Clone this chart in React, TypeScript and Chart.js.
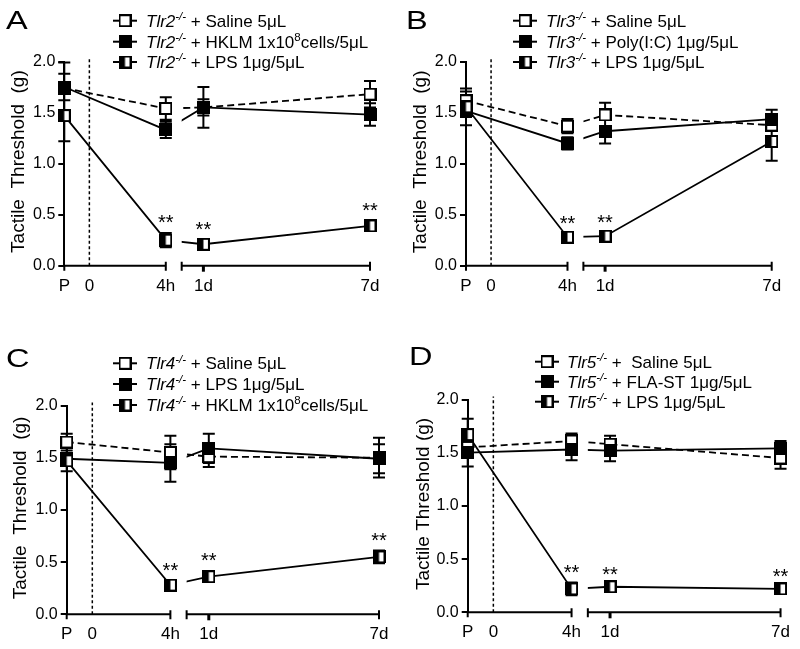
import React, { useEffect, useRef } from 'react';
import { Chart, registerables } from 'chart.js';

Chart.register(...registerables);

const FONT = '"Liberation Sans", Arial, Helvetica, sans-serif';
const INK = '#000000';

// ---------- shared axis data ----------
const timeLabels = ['P', '0', '4h', '1d', '7d'];
const timeAxisValues = [0, 0.82, 3.32, 4.55, 10];
const axisBreakValue = 3.84; // start of second x-axis segment
const injectionValue = 0.82; // time "0" (dotted line)
const measuredTimes = ['P', '4h', '1d', '7d'];
const yTickValues = [0, 0.5, 1.0, 1.5, 2.0];

// ---------- Panel A : Tlr2-/- ----------
const aLabels = ['*Tlr2^{-/-}* + Saline 5μL', '*Tlr2^{-/-}* + HKLM 1x10^{8}cells/5μL', '*Tlr2^{-/-}* + LPS 1μg/5μL'];
const aSaline = [1.74, 1.54, 1.55, 1.68];
const aSalineErr = [0.25, 0.11, 0.08, 0.13];
const aHklm = [1.75, 1.33, 1.55, 1.48];
const aHklmErr = [0.13, 0.08, 0.2, 0.11];
const aLps = [1.47, 0.25, 0.21, 0.39];
const aLpsErr = [0.25, 0.07, 0.04, 0.05];
const aSig = [false, true, true, true];

// ---------- Panel B : Tlr3-/- ----------
const bLabels = ['*Tlr3^{-/-}* + Saline 5μL', '*Tlr3^{-/-}* + Poly(I:C) 1μg/5μL', '*Tlr3^{-/-}* + LPS 1μg/5μL'];
const bSaline = [1.62, 1.37, 1.48, 1.38];
const bSalineErr = [0.09, 0.07, 0.12, 0.05];
const bPoly = [1.52, 1.2, 1.32, 1.44];
const bPolyErr = [0.06, 0.06, 0.12, 0.09];
const bLps = [1.56, 0.28, 0.29, 1.22];
const bLpsErr = [0.18, 0.03, 0.03, 0.19];
const bSig = [false, true, true, false];

// ---------- Panel C : Tlr4-/- ----------
const cLabels = ['*Tlr4^{-/-}* + Saline 5μL', '*Tlr4^{-/-}* + LPS 1μg/5μL', '*Tlr4^{-/-}* + HKLM 1x10^{8}cells/5μL'];
const cSaline = [1.65, 1.55, 1.51, 1.5];
const cSalineErr = [0.08, 0.16, 0.1, 0.19];
const cLps = [1.49, 1.45, 1.59, 1.49];
const cLpsErr = [0.12, 0.18, 0.14, 0.14];
const cHklm = [1.47, 0.28, 0.36, 0.55];
const cHklmErr = [0.1, 0.04, 0.05, 0.06];
const cSig = [false, true, true, true];

// ---------- Panel D : Tlr5-/- ----------
const dLabels = ['*Tlr5^{-/-}* +  Saline 5μL', '*Tlr5^{-/-}* + FLA-ST 1μg/5μL', '*Tlr5^{-/-}* + LPS 1μg/5μL'];
const dSaline = [1.55, 1.61, 1.58, 1.45];
const dSalineErr = [0.08, 0.07, 0.08, 0.1];
const dFla = [1.5, 1.53, 1.52, 1.54];
const dFlaErr = [0.13, 0.1, 0.1, 0.07];
const dLps = [1.67, 0.22, 0.24, 0.22];
const dLpsErr = [0.15, 0.06, 0.02, 0.02];
const dSig = [false, true, true, true];

type MarkerKind = 'open' | 'filled' | 'half';
type Series = { label: string; mean: number[]; err: number[]; marker: MarkerKind; dashed: boolean };
type PanelCfg = {
  letter: string;
  left: number; top: number; width: number; height: number;
  area: { left: number; right: number; top: number; bottom: number };
  letterPos: { x: number; y: number };
  legend: { x: number; textX: number; rows: number[] };
  titleX: number;
  title: string;
  series: Series[];
  sig: boolean[];
};

const mk = (labels: string[], means: number[][], errs: number[][]): Series[] => {
  const kinds: MarkerKind[] = ['open', 'filled', 'half'];
  return labels.map((l, i) => ({ label: l, mean: means[i], err: errs[i], marker: kinds[i], dashed: i === 0 }));
};

const panels: PanelCfg[] = [
  {
    letter: 'A', left: 0, top: 0, width: 400, height: 324,
    area: { left: 64.3, right: 370, top: 61.5, bottom: 265.7 },
    letterPos: { x: 6, y: 28.5 },
    legend: { x: 125, textX: 146, rows: [20.7, 41.7, 62] },
    titleX: 19, title: 'Tactile  Threshold  (g)',
    series: mk(aLabels, [aSaline, aHklm, aLps], [aSalineErr, aHklmErr, aLpsErr]),
    sig: aSig,
  },
  {
    letter: 'B', left: 400, top: 0, width: 400, height: 324,
    area: { left: 466, right: 771.7, top: 62, bottom: 265.7 },
    letterPos: { x: 406, y: 28.5 },
    legend: { x: 525, textX: 546, rows: [20.7, 41.7, 62] },
    titleX: 420.6, title: 'Tactile  Threshold  (g)',
    series: mk(bLabels, [bSaline, bPoly, bLps], [bSalineErr, bPolyErr, bLpsErr]),
    sig: bSig,
  },
  {
    letter: 'C', left: 0, top: 324, width: 400, height: 325,
    area: { left: 66.7, right: 379, top: 405.5, bottom: 614.3 },
    letterPos: { x: 6, y: 367 },
    legend: { x: 125, textX: 146, rows: [363.3, 384, 405] },
    titleX: 20.6, title: 'Tactile  Threshold  (g)',
    series: mk(cLabels, [cSaline, cLps, cHklm], [cSalineErr, cLpsErr, cHklmErr]),
    sig: cSig,
  },
  {
    letter: 'D', left: 400, top: 324, width: 400, height: 325,
    area: { left: 467.7, right: 783.3, top: 399.5, bottom: 612.3 },
    letterPos: { x: 409, y: 365 },
    legend: { x: 547, textX: 567, rows: [361.7, 381.7, 401.7] },
    titleX: 423.3, title: 'Tactile Threshold (g)',
    series: mk(dLabels, [dSaline, dFla, dLps], [dSalineErr, dFlaErr, dLpsErr]),
    sig: dSig,
  },
];

const X_AXIS_H = 30;

function makeMarker(kind: MarkerKind): HTMLCanvasElement {
  const c = document.createElement('canvas');
  c.width = 13;
  c.height = 13;
  const g = c.getContext('2d')!;
  g.fillStyle = '#ffffff';
  g.fillRect(1, 1, 11, 11);
  g.fillStyle = '#000000';
  if (kind === 'filled') g.fillRect(1, 1, 11, 11);
  if (kind === 'half') g.fillRect(1, 1, 5.5, 11);
  g.strokeStyle = '#000000';
  g.lineWidth = 2;
  g.strokeRect(1, 1, 11, 11);
  return c;
}

type Seg = { text: string; italic: boolean; sup: boolean };
function parseRich(s: string): Seg[] {
  const segs: Seg[] = [];
  let italic = false;
  let buf = '';
  let i = 0;
  const flush = () => {
    if (buf) segs.push({ text: buf, italic, sup: false });
    buf = '';
  };
  while (i < s.length) {
    const ch = s[i];
    if (ch === '*') {
      flush();
      italic = !italic;
      i++;
      continue;
    }
    if (ch === '^' && s[i + 1] === '{') {
      flush();
      const end = s.indexOf('}', i);
      segs.push({ text: s.slice(i + 2, end), italic, sup: true });
      i = end + 1;
      continue;
    }
    buf += ch;
    i++;
  }
  flush();
  return segs;
}

function buildConfig(cfg: PanelCfg): any {
  const markers: Record<MarkerKind, HTMLCanvasElement> = {
    open: makeMarker('open'),
    filled: makeMarker('filled'),
    half: makeMarker('half'),
  };
  const xs = measuredTimes.map((t) => timeAxisValues[timeLabels.indexOf(t)]);
  const x4h = timeAxisValues[timeLabels.indexOf('4h')];
  const toData = (arr: number[]) => arr.map((v, i) => ({ x: xs[i], y: v }));

  const pointSets = cfg.series
    .map((s) => ({
      data: toData(s.mean),
      showLine: false,
      pointStyle: markers[s.marker],
      pointRadius: 7,
      pointHoverRadius: 7,
      clip: false,
    }))
    .reverse();
  const lineSets = cfg.series.map((s) => ({
    data: toData(s.mean),
    showLine: true,
    pointRadius: 0,
    pointHoverRadius: 0,
    borderColor: '#000',
    borderWidth: 1.8,
    borderDash: s.dashed ? [7, 4] : [],
    tension: 0,
    fill: false,
    clip: false,
  }));
  const nPts = pointSets.length;

  const ox = cfg.left;
  const oy = cfg.top;

  const decor = {
    id: 'decor' + cfg.letter,
    beforeDatasetsDraw(chart: any) {
      const ctx: CanvasRenderingContext2D = chart.ctx;
      const xS = chart.scales.x;
      const yS = chart.scales.y;
      const y0 = yS.getPixelForValue(0);
      ctx.save();
      ctx.strokeStyle = '#000';
      ctx.lineCap = 'butt';
      // broken x axis
      ctx.lineWidth = 2;
      const segs = [
        [0, x4h],
        [axisBreakValue, timeAxisValues[timeAxisValues.length - 1]],
      ];
      ctx.beginPath();
      for (const [a, b] of segs) {
        ctx.moveTo(xS.getPixelForValue(a) - 1, y0);
        ctx.lineTo(xS.getPixelForValue(b) + 1, y0);
      }
      // end caps
      for (const v of [x4h, axisBreakValue, timeAxisValues[4]]) {
        const px = xS.getPixelForValue(v);
        ctx.moveTo(px, y0 - 4);
        ctx.lineTo(px, y0 + 5);
      }
      // ticks below
      const pP = xS.getPixelForValue(timeAxisValues[0]);
      ctx.moveTo(pP, y0);
      ctx.lineTo(pP, y0 + 5);
      ctx.stroke();
      ctx.lineWidth = 3;
      ctx.beginPath();
      const p1d = xS.getPixelForValue(timeAxisValues[3]);
      ctx.moveTo(p1d, y0);
      ctx.lineTo(p1d, y0 + 6);
      ctx.stroke();

      // dotted injection line
      ctx.lineWidth = 1.5;
      ctx.setLineDash([3, 2.5]);
      const pz = xS.getPixelForValue(injectionValue);
      ctx.beginPath();
      ctx.moveTo(pz, y0);
      ctx.lineTo(pz, chart.chartArea.top - 3);
      ctx.stroke();
      ctx.setLineDash([]);

      // error bars
      ctx.lineWidth = 2;
      ctx.beginPath();
      cfg.series.forEach((s) => {
        s.mean.forEach((m, i) => {
          const px = xS.getPixelForValue(xs[i]);
          const yt = yS.getPixelForValue(m + s.err[i]);
          const yb = yS.getPixelForValue(m - s.err[i]);
          ctx.moveTo(px, yt);
          ctx.lineTo(px, yb);
          ctx.moveTo(px - 6, yt);
          ctx.lineTo(px + 6, yt);
          ctx.moveTo(px - 6, yb);
          ctx.lineTo(px + 6, yb);
        });
      });
      ctx.stroke();
      ctx.restore();
    },
    beforeDatasetDraw(chart: any, args: any) {
      if (args.index < nPts) return;
      const ctx: CanvasRenderingContext2D = chart.ctx;
      const xS = chart.scales.x;
      const a = xS.getPixelForValue(x4h);
      const b = xS.getPixelForValue(axisBreakValue);
      ctx.save();
      ctx.beginPath();
      ctx.rect(0, 0, a, chart.height);
      ctx.rect(b, 0, chart.width - b, chart.height);
      ctx.clip();
    },
    afterDatasetDraw(chart: any, args: any) {
      if (args.index < nPts) return;
      chart.ctx.restore();
    },
    afterDatasetsDraw(chart: any) {
      const ctx: CanvasRenderingContext2D = chart.ctx;
      const xS = chart.scales.x;
      const yS = chart.scales.y;
      const s = cfg.series[2];
      ctx.save();
      ctx.fillStyle = INK;
      ctx.font = `20px ${FONT}`;
      ctx.textAlign = 'center';
      ctx.textBaseline = 'alphabetic';
      cfg.sig.forEach((flag, i) => {
        if (!flag) return;
        const px = xS.getPixelForValue(xs[i]);
        const yt = yS.getPixelForValue(s.mean[i] + s.err[i]);
        ctx.fillText('**', px, yt - 4);
      });
      ctx.restore();
    },
    afterDraw(chart: any) {
      const ctx: CanvasRenderingContext2D = chart.ctx;
      const ca = chart.chartArea;
      ctx.save();
      ctx.fillStyle = INK;
      // panel letter
      ctx.save();
      ctx.translate(cfg.letterPos.x - ox, cfg.letterPos.y - oy);
      ctx.scale(1.3, 1);
      ctx.font = `25px ${FONT}`;
      ctx.textAlign = 'left';
      ctx.textBaseline = 'alphabetic';
      ctx.fillText(cfg.letter, 0, 0);
      ctx.restore();

      // y title
      ctx.save();
      ctx.translate(cfg.titleX - ox, (ca.top + ca.bottom) / 2 - 2);
      ctx.rotate(-Math.PI / 2);
      ctx.font = `19px ${FONT}`;
      ctx.textAlign = 'center';
      ctx.textBaseline = 'middle';
      ctx.fillText(cfg.title, 0, 0);
      ctx.restore();

      // legend
      cfg.series.forEach((s, k) => {
        const cy = cfg.legend.rows[k] - oy;
        const cx = cfg.legend.x - ox;
        ctx.strokeStyle = '#000';
        ctx.lineWidth = 2;
        ctx.beginPath();
        ctx.moveTo(cx - 12, cy);
        ctx.lineTo(cx + 12, cy);
        ctx.stroke();
        const m = markers[s.marker];
        ctx.drawImage(m, cx - m.width / 2, cy - m.height / 2);
        let tx = cfg.legend.textX - ox;
        const base = cy + 5.8;
        ctx.textAlign = 'left';
        ctx.textBaseline = 'alphabetic';
        for (const seg of parseRich(s.label)) {
          const size = seg.sup ? 11.5 : 17;
          ctx.font = `${seg.italic ? 'italic ' : ''}${size}px ${FONT}`;
          ctx.fillText(seg.text, tx, seg.sup ? base - 6.5 : base);
          tx += ctx.measureText(seg.text).width;
        }
      });
      ctx.restore();
    },
  };

  return {
    type: 'line',
    data: { datasets: [...pointSets, ...lineSets] },
    options: {
      responsive: false,
      animation: false,
      events: [],
      layout: {
        padding: {
          left: 0,
          top: cfg.area.top - cfg.top,
          right: cfg.left + cfg.width - cfg.area.right,
          bottom: cfg.top + cfg.height - cfg.area.bottom - X_AXIS_H,
        },
      },
      plugins: { legend: { display: false }, tooltip: { enabled: false }, title: { display: false } },
      scales: {
        x: {
          type: 'linear',
          min: timeAxisValues[0],
          max: timeAxisValues[timeAxisValues.length - 1],
          afterBuildTicks: (s: any) => {
            s.ticks = timeAxisValues.map((v) => ({ value: v }));
          },
          afterFit: (s: any) => {
            s.height = X_AXIS_H;
          },
          ticks: {
            autoSkip: false,
            maxRotation: 0,
            padding: 10,
            color: INK,
            font: { family: FONT, size: 17 },
            callback: (_v: any, i: number) => timeLabels[i],
          },
          grid: { display: false, drawTicks: false },
          border: { display: false },
        },
        y: {
          type: 'linear',
          min: 0,
          max: 2,
          afterBuildTicks: (s: any) => {
            s.ticks = yTickValues.map((v) => ({ value: v }));
          },
          afterFit: (s: any) => {
            s.width = cfg.area.left - cfg.left;
          },
          ticks: {
            padding: 3,
            color: INK,
            font: { family: FONT, size: 16 },
            callback: (v: any) => Number(v).toFixed(1),
          },
          grid: { display: true, drawOnChartArea: false, drawTicks: true, tickLength: 6, color: '#000', lineWidth: 2 },
          border: { display: true, color: '#000', width: 2 },
        },
      },
    },
    plugins: [decor],
  };
}

function Panel({ cfg }: { cfg: PanelCfg }) {
  const ref = useRef<HTMLCanvasElement>(null);
  useEffect(() => {
    if (!ref.current) return;
    const chart = new Chart(ref.current, buildConfig(cfg));
    return () => chart.destroy();
  }, [cfg]);
  return (
    <canvas
      ref={ref}
      width={cfg.width}
      height={cfg.height}
      style={{ position: 'absolute', left: cfg.left, top: cfg.top, width: cfg.width, height: cfg.height, display: 'block' }}
    />
  );
}

export default function App() {
  return (
    <div style={{ position: 'absolute', left: 0, top: 0, width: 800, height: 649, background: '#ffffff', overflow: 'hidden' }}>
      {panels.map((p) => (
        <Panel key={p.letter} cfg={p} />
      ))}
    </div>
  );
}
